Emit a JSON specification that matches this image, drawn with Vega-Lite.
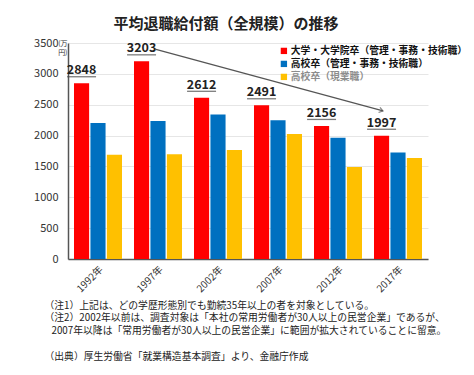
{
  "$schema": "https://vega.github.io/schema/vega-lite/v6.json",
  "autosize": "none",
  "width": 360,
  "height": 216,
  "padding": {"left": 68, "top": 43, "right": 46, "bottom": 116},
  "background": "white",
  "config": {
    "font": "Noto Sans CJK JP",
    "view": {"stroke": null},
    "axis": {"labelFont": "Noto Sans CJK JP", "titleFont": "Noto Sans CJK JP"},
    "legend": {"labelFont": "Noto Sans CJK JP"}
  },
  "title": {
    "text": "平均退職給付額（全規模）の推移",
    "fontSize": 15,
    "fontWeight": "bold",
    "color": "#222",
    "offset": 5,
    "dx": -22,
    "anchor": "middle"
  },
  "datasets": {
    "bars": [
      {"year": "1992年", "series": "大学・大学院卒（管理・事務・技術職）", "value": 2848},
      {"year": "1992年", "series": "高校卒（管理・事務・技術職）", "value": 2204},
      {"year": "1992年", "series": "高校卒（現業職）", "value": 1688},
      {"year": "1997年", "series": "大学・大学院卒（管理・事務・技術職）", "value": 3203},
      {"year": "1997年", "series": "高校卒（管理・事務・技術職）", "value": 2235},
      {"year": "1997年", "series": "高校卒（現業職）", "value": 1697},
      {"year": "2002年", "series": "大学・大学院卒（管理・事務・技術職）", "value": 2612},
      {"year": "2002年", "series": "高校卒（管理・事務・技術職）", "value": 2343},
      {"year": "2002年", "series": "高校卒（現業職）", "value": 1766},
      {"year": "2007年", "series": "大学・大学院卒（管理・事務・技術職）", "value": 2491},
      {"year": "2007年", "series": "高校卒（管理・事務・技術職）", "value": 2247},
      {"year": "2007年", "series": "高校卒（現業職）", "value": 2027},
      {"year": "2012年", "series": "大学・大学院卒（管理・事務・技術職）", "value": 2156},
      {"year": "2012年", "series": "高校卒（管理・事務・技術職）", "value": 1965},
      {"year": "2012年", "series": "高校卒（現業職）", "value": 1490},
      {"year": "2017年", "series": "大学・大学院卒（管理・事務・技術職）", "value": 1997},
      {"year": "2017年", "series": "高校卒（管理・事務・技術職）", "value": 1724},
      {"year": "2017年", "series": "高校卒（現業職）", "value": 1636}
    ],
    "arrow": [
      {"year": "1997年", "year2": "2017年", "value": 3400, "value2": 2400}
    ],
    "arrowhead": [
      {"year": "2017年", "value": 2400}
    ]
  },
  "encoding": {
    "x": {
      "field": "year", "type": "nominal",
      "scale": {"domain": ["1992年", "1997年", "2002年", "2007年", "2012年", "2017年"], "paddingInner": 0.2, "paddingOuter": 0.1},
      "axis": {
        "labelAngle": -45, "labelAlign": "right", "labelBaseline": "top",
        "labelPadding": 5, "labelFontSize": 10, "labelColor": "#333",
        "ticks": false, "domainColor": "#555", "domainWidth": 1.5,
        "title": [
          "（注1）上記は、どの学歴形態別でも勤続35年以上の者を対象としている。",
          "（注2）2002年以前は、調査対象は「本社の常用労働者が30人以上の民営企業」であるが、",
          "\u28002007年以降は「常用労働者が30人以上の民営企業」に範囲が拡大されていることに留意。",
          "\u2800",
          "（出典）厚生労働省「就業構造基本調査」より、金融庁作成"
        ],
        "titleFontSize": 9.8, "titleFontWeight": "normal", "titleColor": "#222",
        "titleAnchor": "start", "titleAlign": "left", "titleBaseline": "top",
        "titleX": -24, "titleY": 41, "titleLineHeight": 12.8
      }
    },
    "y": {
      "field": "value", "type": "quantitative",
      "scale": {"domain": [0, 3500], "nice": false},
      "axis": {
        "values": [0, 500, 1000, 1500, 2000, 2500, 3000, 3500],
        "format": "d", "labelOverlap": false,
        "labelFontSize": 11, "labelColor": "#333", "labelPadding": 10,
        "ticks": false, "domainColor": "#555", "domainWidth": 1.5,
        "gridColor": "#e6e6e6", "gridWidth": 1,
        "title": ["(万", "円)"], "titleAngle": 0, "titleFontSize": 7, "titleFontWeight": "normal",
        "titleColor": "#333", "titleAlign": "right", "titleBaseline": "top",
        "titleX": -1, "titleY": -4, "titleLineHeight": 9
      }
    }
  },
  "layer": [
    {
      "data": {"name": "bars"},
      "mark": {"type": "bar"},
      "encoding": {
        "xOffset": {
          "field": "series", "type": "nominal",
          "scale": {"domain": ["大学・大学院卒（管理・事務・技術職）", "高校卒（管理・事務・技術職）", "高校卒（現業職）"], "paddingInner": 0.08}
        },
        "color": {
          "field": "series", "type": "nominal",
          "scale": {
            "domain": ["大学・大学院卒（管理・事務・技術職）", "高校卒（管理・事務・技術職）", "高校卒（現業職）"],
            "range": ["#ff0000", "#0070c0", "#ffc000"]
          },
          "legend": {
            "title": null, "orient": "none", "legendX": 211, "legendY": 3,
            "padding": 0, "symbolType": "square", "symbolSize": 40, "symbolStrokeWidth": 0,
            "labelFontSize": 9.8, "labelFontWeight": "bold", "labelOffset": 2, "rowPadding": 2,
            "labelLimit": 300, "labelBaseline": "middle",
            "encode": {"labels": {"update": {"fill": {"signal": "datum.label === '高校卒（現業職）' ? '#8c8c8c' : '#111'"}}}}
          }
        }
      }
    },
    {
      "data": {"name": "bars"},
      "transform": [{"filter": "datum.series === '大学・大学院卒（管理・事務・技術職）'"}],
      "mark": {"type": "text", "dy": -9, "baseline": "alphabetic", "fontSize": 12.5, "fontWeight": "bold", "color": "#222"},
      "encoding": {
        "xOffset": {"field": "series", "type": "nominal"},
        "text": {"field": "value", "type": "quantitative"}
      }
    },
    {
      "data": {"name": "bars"},
      "transform": [{"filter": "datum.series === '大学・大学院卒（管理・事務・技術職）'"}],
      "mark": {"type": "tick", "yOffset": -6.5, "size": 29, "thickness": 1.3, "color": "#444"},
      "encoding": {
        "xOffset": {"field": "series", "type": "nominal"}
      }
    },
    {
      "data": {"name": "arrow"},
      "mark": {"type": "rule", "color": "#555", "strokeWidth": 1.2, "xOffset": -3, "x2Offset": -15},
      "encoding": {
        "x2": {"field": "year2"},
        "y2": {"field": "value2"}
      }
    },
    {
      "data": {"name": "arrowhead"},
      "mark": {"type": "point", "shape": "M-1,-0.7L0,0L-1,0.7", "filled": false, "stroke": "#555", "strokeWidth": 1.2, "size": 60, "angle": 15, "xOffset": -15},
      "encoding": {}
    }
  ]
}
